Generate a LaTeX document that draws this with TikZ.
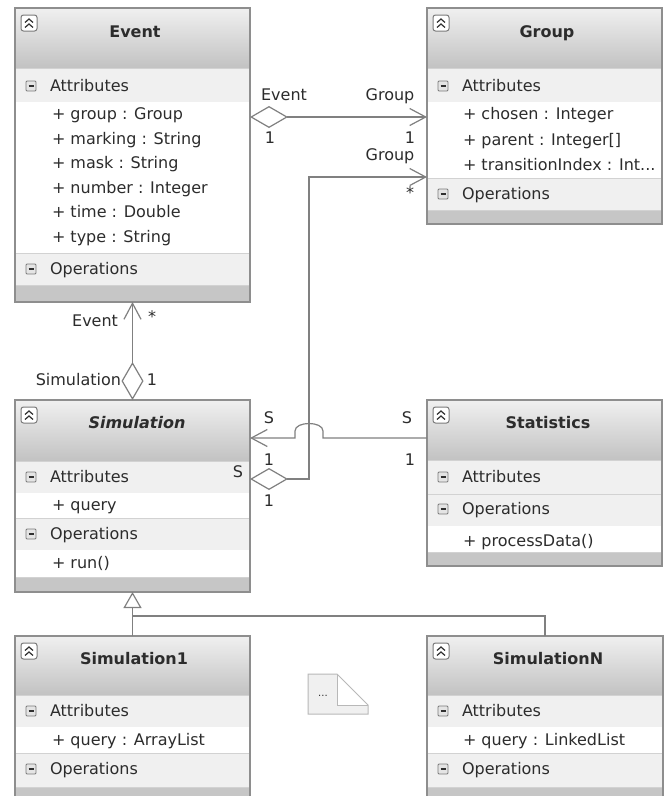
\documentclass[tikz,border=0pt]{standalone}
\usepackage{fontspec}
\setmainfont{DejaVu Sans}
\usetikzlibrary{arrows.meta}
\definecolor{framec}{HTML}{8E8E8E}
\definecolor{hdrtop}{HTML}{F0F0F0}
\definecolor{hdrbot}{HTML}{C2C2C2}
\definecolor{bandc}{HTML}{F0F0F0}
\definecolor{footc}{HTML}{C6C6C6}
\definecolor{sepc}{HTML}{D2D2D2}
\definecolor{linec}{HTML}{808080}
\definecolor{txtc}{HTML}{2C2C2C}
\definecolor{iconc}{HTML}{7A7A7A}
\definecolor{iconfill}{HTML}{E4E4E4}
\definecolor{icondark}{HTML}{303030}
\definecolor{notec}{HTML}{B8B8B8}
\newcommand\hdrfill[4]{\shade[top color=hdrtop,bottom color=hdrbot] (#1,#2) rectangle (#3,#4);}
\newcommand\bandfill[5]{\fill[#5] (#1,#2) rectangle (#3,#4); \draw[sepc, line width=1] (#1,#2) -- (#3,#2);}
\newcommand\colicon[2]{%
 \draw[iconc, fill=white, rounded corners=2.5, line width=1] ({#1+6},{#2+7}) rectangle ({#1+22},{#2+23});
 \draw[icondark, line width=1.2] ({#1+10},{#2+14.5}) -- ({#1+14},{#2+11}) -- ({#1+18},{#2+14.5});
 \draw[icondark, line width=1.2] ({#1+10},{#2+19.5}) -- ({#1+14},{#2+16}) -- ({#1+18},{#2+19.5});}
\newcommand\minicon[2]{%
 \draw[iconc, fill=iconfill, rounded corners=1, line width=0.9] ({#1+11},{#2-5}) rectangle ({#1+21},{#2+5});
 \draw[icondark, line width=1.2] ({#1+13.5},#2) -- ({#1+18.5},#2);}
\newcommand\classframe[5]{\node[frame, minimum width={#4-#2}, minimum height={#5-#3}, anchor=north west] (#1) at (#2,#3) {};}
\tikzset{
 every node/.style={font=\fontsize{16}{19}\selectfont, text=txtc, inner sep=0pt, outer sep=0pt},
 frame/.style={draw=framec, line width=1.3, inner sep=0pt, outer sep=0pt},
 itm/.style={anchor=west, text height=11.7, text depth=0},
 ttl/.style={font=\fontsize{16}{19}\selectfont\bfseries, text height=11.7, text depth=0},
 lbl/.style={text height=11.7, text depth=0},
 starlbl/.style={},
 conn/.style={draw=linec, line width=1.2},
}
\begin{document}
\begin{tikzpicture}[x=1pt, y=-1pt]
\useasboundingbox (0,0) rectangle (670,796);
\fill[white] (0,0) rectangle (670,796);

% ---------- Event ----------
\hdrfill{15}{8}{250}{68}
\bandfill{15}{68}{250}{102}{bandc}
\bandfill{15}{253}{250}{285}{bandc}
\bandfill{15}{285}{250}{302}{footc}
\classframe{event}{15}{8}{250}{302}
\colicon{15}{8}
\minicon{15}{86}
\minicon{15}{269}
\node[ttl] (eventT) at (135,32) {Event};
\node[itm] (eventA) at (50,86) {Attributes};
\node[itm] (eventA1) at (52,114) {+ group : Group};
\node[itm] (eventA2) at (52,139) {+ marking : String};
\node[itm] (eventA3) at (52,163) {+ mask : String};
\node[itm] (eventA4) at (52,188) {+ number : Integer};
\node[itm] (eventA5) at (52,212) {+ time : Double};
\node[itm] (eventA6) at (52,237) {+ type : String};
\node[itm] (eventO) at (50,269) {Operations};

% ---------- Group ----------
\hdrfill{427}{8}{662}{68}
\bandfill{427}{68}{662}{102}{bandc}
\bandfill{427}{178}{662}{210}{bandc}
\bandfill{427}{210}{662}{224}{footc}
\classframe{group}{427}{8}{662}{224}
\colicon{427}{8}
\minicon{427}{86}
\minicon{427}{194}
\node[ttl] (groupT) at (547,32) {Group};
\node[itm] (groupA) at (462,86) {Attributes};
\node[itm] (groupA1) at (463,114) {+ chosen : Integer};
\node[itm] (groupA2) at (463,140) {+ parent : Integer[]};
\node[itm] (groupA3) at (463,165) {+ transitionIndex : Int...};
\node[itm] (groupO) at (462,194) {Operations};

% ---------- Simulation ----------
\hdrfill{15}{400}{250}{461}
\bandfill{15}{461}{250}{493}{bandc}
\bandfill{15}{518}{250}{550}{bandc}
\bandfill{15}{577}{250}{592}{footc}
\classframe{sim}{15}{400}{250}{592}
\colicon{15}{400}
\minicon{15}{477}
\minicon{15}{534}
\node[ttl, font=\fontsize{16}{19}\selectfont\bfseries\itshape] (simT) at (137,423) {Simulation};
\node[itm] (simA) at (50,477) {Attributes};
\node[itm] (simA1) at (52,505) {+ query};
\node[itm] (simO) at (50,534) {Operations};
\node[itm] (simO1) at (52,563) {+ run()};

% ---------- Statistics ----------
\hdrfill{427}{400}{662}{460}
\bandfill{427}{460}{662}{494}{bandc}
\bandfill{427}{494}{662}{526}{bandc}
\bandfill{427}{552}{662}{566}{footc}
\classframe{stat}{427}{400}{662}{566}
\colicon{427}{400}
\minicon{427}{477}
\minicon{427}{509}
\node[ttl] (statT) at (548,423) {Statistics};
\node[itm] (statA) at (462,477) {Attributes};
\node[itm] (statO) at (462,509) {Operations};
\node[itm] (statO1) at (463,541) {+ processData()};

% ---------- Simulation1 ----------
\hdrfill{15}{636}{250}{695}
\bandfill{15}{695}{250}{727}{bandc}
\bandfill{15}{753}{250}{787}{bandc}
\bandfill{15}{787}{250}{798}{footc}
\classframe{simA}{15}{636}{250}{798}
\colicon{15}{636}
\minicon{15}{711}
\minicon{15}{769}
\node[ttl] (simAT) at (134,659) {Simulation1};
\node[itm] (simAA) at (50,711) {Attributes};
\node[itm] (simAA1) at (52,740) {+ query : ArrayList};
\node[itm] (simAO) at (50,769) {Operations};

% ---------- SimulationN ----------
\hdrfill{427}{636}{663}{695}
\bandfill{427}{695}{663}{727}{bandc}
\bandfill{427}{753}{663}{787}{bandc}
\bandfill{427}{787}{663}{798}{footc}
\classframe{simN}{427}{636}{663}{798}
\colicon{427}{636}
\minicon{427}{711}
\minicon{427}{769}
\node[ttl] (simNT) at (548,659) {SimulationN};
\node[itm] (simNA) at (462,711) {Attributes};
\node[itm] (simNA1) at (463,740) {+ query : LinkedList};
\node[itm] (simNO) at (462,769) {Operations};

% ---------- note icon ----------
\fill[bandc] (308,674) -- (337,674) -- (337,705) -- (368,705) -- (368,714) -- (308,714) -- cycle;
\fill[white] (337,674) -- (368,705) -- (337,705) -- cycle;
\draw[notec, line width=1] (308,674) -- (337,674) -- (368,705) -- (368,714) -- (308,714) -- cycle;
\draw[notec, line width=1] (337,674) -- (337,705) -- (368,705);
\node[font=\fontsize{10}{12}\selectfont] (note) at (323,696) {...};

% ---------- connectors ----------
% Event -> Group
\coordinate (eg) at (0,117);
\draw[conn, {Diamond[length=38pt, width=22pt, fill=white, line width=1.2]}-{Straight Barb[length=16pt, width=17pt, line width=1.2]}]
  (event.east |- eg) -- (group.west |- eg);
\node[lbl] (egL1) at (284,95) {Event};
\node[lbl] (egL2) at (270,138) {1};
\node[lbl] (egL3) at (390,95) {Group};
\node[lbl] (egL4) at (410,138) {1};

% Simulation -> Group
\coordinate (sgA) at (309,479);
\coordinate (sgB) at (309,177);
\draw[conn, {Diamond[length=38pt, width=22pt, fill=white, line width=1.2]}-{Straight Barb[length=16pt, width=17pt, line width=1.2]}]
  (sim.east |- sgA) -- (sgA) -- (sgB) -- (group.west |- sgB);
\node[lbl] (sgL1) at (390,155) {Group};
\node[starlbl] (sgL2) at (410,193) {*};
\node[lbl] (sgL3) at (238,472) {S};
\node[lbl] (sgL4) at (269,501) {1};

% Statistics -> Simulation (with line jump)
\coordinate (ss) at (0,438);
\coordinate (jr) at (323,438);
\coordinate (jl) at (295,438);
\draw[conn, {Straight Barb[length=16pt, width=17pt, line width=1.2]}-]
  (sim.east |- ss) -- (jl) -- (295,431) .. controls (295,421) and (323,421) .. (323,431) -- (jr) -- (stat.west |- ss);
\node[lbl] (ssL1) at (269,418) {S};
\node[lbl] (ssL2) at (269,460) {1};
\node[lbl] (ssL3) at (407,418) {S};
\node[lbl] (ssL4) at (410,460) {1};

% Simulation -> Event
\draw[conn, {Diamond[length=38pt, width=22pt, fill=white, line width=1.2]}-{Straight Barb[length=16pt, width=17pt, line width=1.2]}]
  (sim.north) -- (event.south);
\node[lbl, anchor=east] (seL1) at (118,321) {Event};
\node[starlbl] (seL2) at (152,317) {*};
\node[lbl, anchor=east] (seL3) at (121,380) {Simulation};
\node[lbl] (seL4) at (152,380) {1};

% Generalization
\coordinate (gj) at (133,616);
\draw[conn, -{Triangle[open, length=16pt, width=18pt, line width=1.2]}] (simA.north) -- (sim.south);
\draw[conn] (simN.north) |- (gj);
\end{tikzpicture}
\end{document}
